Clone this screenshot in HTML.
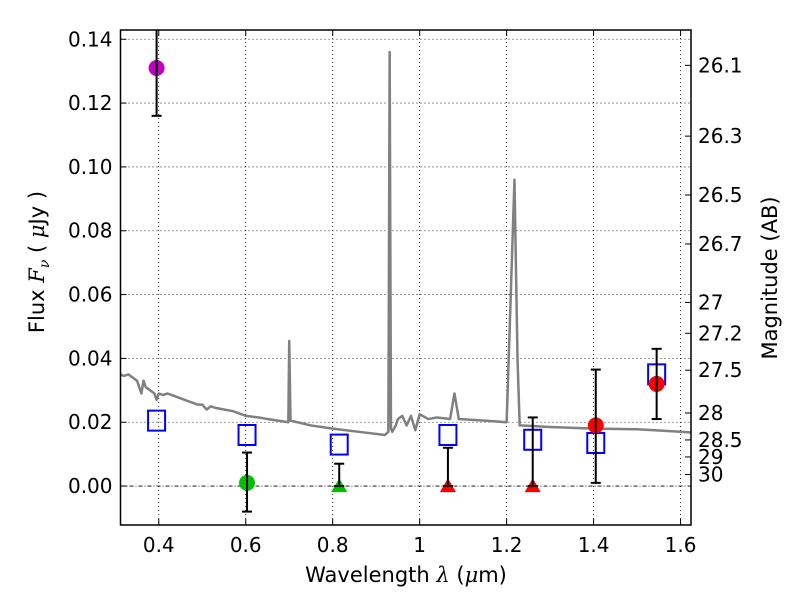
<!DOCTYPE html>
<html><head><meta charset="utf-8"><style>
body{margin:0;background:#fff}
svg text{font-family:"DejaVu Sans","Liberation Sans",sans-serif;fill:#000}
</style></head><body>
<svg id="chart" width="800" height="600" viewBox="0 0 800 600" xmlns="http://www.w3.org/2000/svg">
<g id="grid"></g>
<g id="plot"></g>
<g id="axes"></g>
<text x="406" y="582" font-size="21" text-anchor="middle">Wavelength  <tspan font-style="italic" font-family="DejaVu Serif,serif">λ</tspan> (<tspan font-style="italic" font-family="DejaVu Serif,serif">μ</tspan>m)</text>
<text transform="translate(44,262) rotate(-90)" font-size="21" text-anchor="middle">Flux  <tspan font-style="italic" font-family="DejaVu Serif,serif">F</tspan><tspan font-style="italic" font-family="DejaVu Serif,serif" font-size="14" dy="5">ν</tspan><tspan dy="-5">  ( </tspan><tspan font-style="italic" font-family="DejaVu Serif,serif">μ</tspan>Jy )</text>
<text transform="translate(777,278) rotate(-90)" font-size="21" text-anchor="middle">Magnitude (AB)</text>
</svg>
<script>
const xTicks=[0.4,0.6,0.8,1.0,1.2,1.4,1.6];
const xTickLabels=["0.4","0.6","0.8","1","1.2","1.4","1.6"];
const yTicks=[0,0.02,0.04,0.06,0.08,0.10,0.12,0.14];
const yTickLabels=["0.00","0.02","0.04","0.06","0.08","0.10","0.12","0.14"];
const magTicks=[26.1,26.3,26.5,26.7,27,27.2,27.5,28,28.5,29,30];
const magTickLabels=["26.1","26.3","26.5","26.7","27","27.2","27.5","28","28.5","29","30"];
const specWave=[0.312,0.32,0.33,0.34,0.35,0.355,0.36,0.365,0.37,0.38,0.39,0.395,0.40,0.41,0.42,0.43,0.44,0.45,0.46,0.47,0.48,0.49,0.50,0.51,0.52,0.53,0.55,0.57,0.60,0.63,0.65,0.698,0.700,0.703,0.75,0.80,0.86,0.92,0.928,0.931,0.934,0.937,0.945,0.95,0.96,0.97,0.98,0.99,1.00,1.02,1.04,1.07,1.08,1.09,1.15,1.20,1.21,1.218,1.225,1.23,1.3,1.4,1.5,1.6,1.624];
const specFlux=[0.035,0.0345,0.035,0.034,0.033,0.031,0.029,0.033,0.031,0.030,0.029,0.027,0.029,0.0285,0.029,0.0285,0.028,0.0275,0.027,0.0265,0.026,0.0255,0.0255,0.024,0.025,0.0245,0.024,0.0235,0.022,0.0215,0.021,0.020,0.0455,0.0205,0.019,0.018,0.017,0.016,0.017,0.136,0.018,0.017,0.019,0.021,0.022,0.019,0.022,0.0175,0.0225,0.021,0.0215,0.021,0.029,0.021,0.0205,0.020,0.062,0.096,0.040,0.019,0.0185,0.018,0.0178,0.017,0.0168];
const sqWave=[0.395,0.603,0.815,1.065,1.26,1.405,1.545];
const sqFlux=[0.0205,0.016,0.013,0.016,0.0145,0.0135,0.035];
const obsWave=[0.395,0.603,0.815,1.065,1.26,1.405,1.545];
const obsFlux=[0.131,0.001,0,0,0,0.019,0.032];
const obsLo=[0.116,-0.008,0,0,0,0.001,0.021];
const obsHi=[0.15,0.0105,0.007,0.012,0.0215,0.0365,0.043];
const obsColor=["#bf00bf","#00bf00","#00bf00","#ff0000","#ff0000","#ff0000","#ff0000"];
const obsShape=["circle","circle","triangle","triangle","triangle","circle","circle"];

const L=120.5,R=691,T=30,B=525,X0=0.312,X1=1.624,Y0=-0.0122,Y1=0.1429;
const sx=v=>L+(v-X0)/(X1-X0)*(R-L);
const sy=v=>B-(v-Y0)/(Y1-Y0)*(B-T);
const NS="http://www.w3.org/2000/svg";
function mk(tag,attrs,parent){const e=document.createElementNS(NS,tag);for(const k in attrs)e.setAttribute(k,attrs[k]);parent.appendChild(e);return e;}
const grid=document.getElementById('grid'),plot=document.getElementById('plot'),axes=document.getElementById('axes');
const clip=mk('clipPath',{id:'clp'},document.getElementById('chart'));
mk('rect',{x:L,y:T,width:R-L,height:B-T},clip);
plot.setAttribute('clip-path','url(#clp)');

xTicks.forEach((t,i)=>{
  const l=mk('line',{x1:sx(t),x2:sx(t),y1:T,y2:B,stroke:'#000','stroke-width':0.8,'stroke-dasharray':'1,3'},grid);
  
  
  mk('line',{x1:sx(t),x2:sx(t),y1:B,y2:B-6,stroke:'#000'},axes);
  mk('line',{x1:sx(t),x2:sx(t),y1:T,y2:T+6,stroke:'#000'},axes);
  const tx=mk('text',{x:sx(t),y:B+27,'font-size':20,'text-anchor':'middle'},axes);
  tx.textContent=xTickLabels[i];
  
  
});
yTicks.forEach((t,i)=>{
  const l=mk('line',{x1:L,x2:R,y1:sy(t),y2:sy(t),stroke:'#000','stroke-width':0.8,'stroke-dasharray':t===0?'4,2,1,2':'1,3'},grid);
  
  
  mk('line',{x1:L,x2:L+6,y1:sy(t),y2:sy(t),stroke:'#000'},axes);
  const tx=mk('text',{x:L-8,y:sy(t)+7,'font-size':20,'text-anchor':'end'},axes);
  tx.textContent=yTickLabels[i];
  
  
});
magTicks.forEach((m,i)=>{
  const f=Math.pow(10,(23.9-m)/2.5);
  mk('line',{x1:R,x2:R-6,y1:sy(f),y2:sy(f),stroke:'#000'},axes);
  const tx=mk('text',{x:R+7,y:sy(f)+7,'font-size':20},axes);
  tx.textContent=magTickLabels[i];
  
  
});
const fr=mk('rect',{x:L,y:T,width:R-L,height:B-T,fill:'none',stroke:'#000','stroke-width':1.5},axes);



const sp=mk('polyline',{points:specWave.map((w,i)=>sx(w)+','+sy(specFlux[i])).join(' '),fill:'none',stroke:'#808080','stroke-width':2.5,'stroke-linejoin':'round'},plot);



sqWave.forEach((w,i)=>{
  const r=mk('rect',{x:sx(w)-8.5,y:sy(sqFlux[i])-10,width:17,height:20,fill:'none',stroke:'#0000ff','stroke-width':2},plot);
  
  
});
obsWave.forEach((w,i)=>{
  const x=sx(w),y=sy(obsFlux[i]);
  const g=mk('g',{},plot);
  
  
  if(obsShape[i]==='circle') mk('circle',{cx:x,cy:y,r:8,fill:obsColor[i]},g);
  else mk('polygon',{points:`${x-8},${y+6} ${x+8},${y+6} ${x},${y-8}`,fill:obsColor[i]},g);
  const yl=sy(obsLo[i]),yh=sy(obsHi[i]);
  mk('line',{x1:x,x2:x,y1:yl,y2:yh,stroke:'#000','stroke-width':2},g);
  mk('line',{x1:x-5,x2:x+5,y1:yl,y2:yl,stroke:'#000','stroke-width':2},g);
  mk('line',{x1:x-5,x2:x+5,y1:yh,y2:yh,stroke:'#000','stroke-width':2},g);
});
</script>
</body></html>
